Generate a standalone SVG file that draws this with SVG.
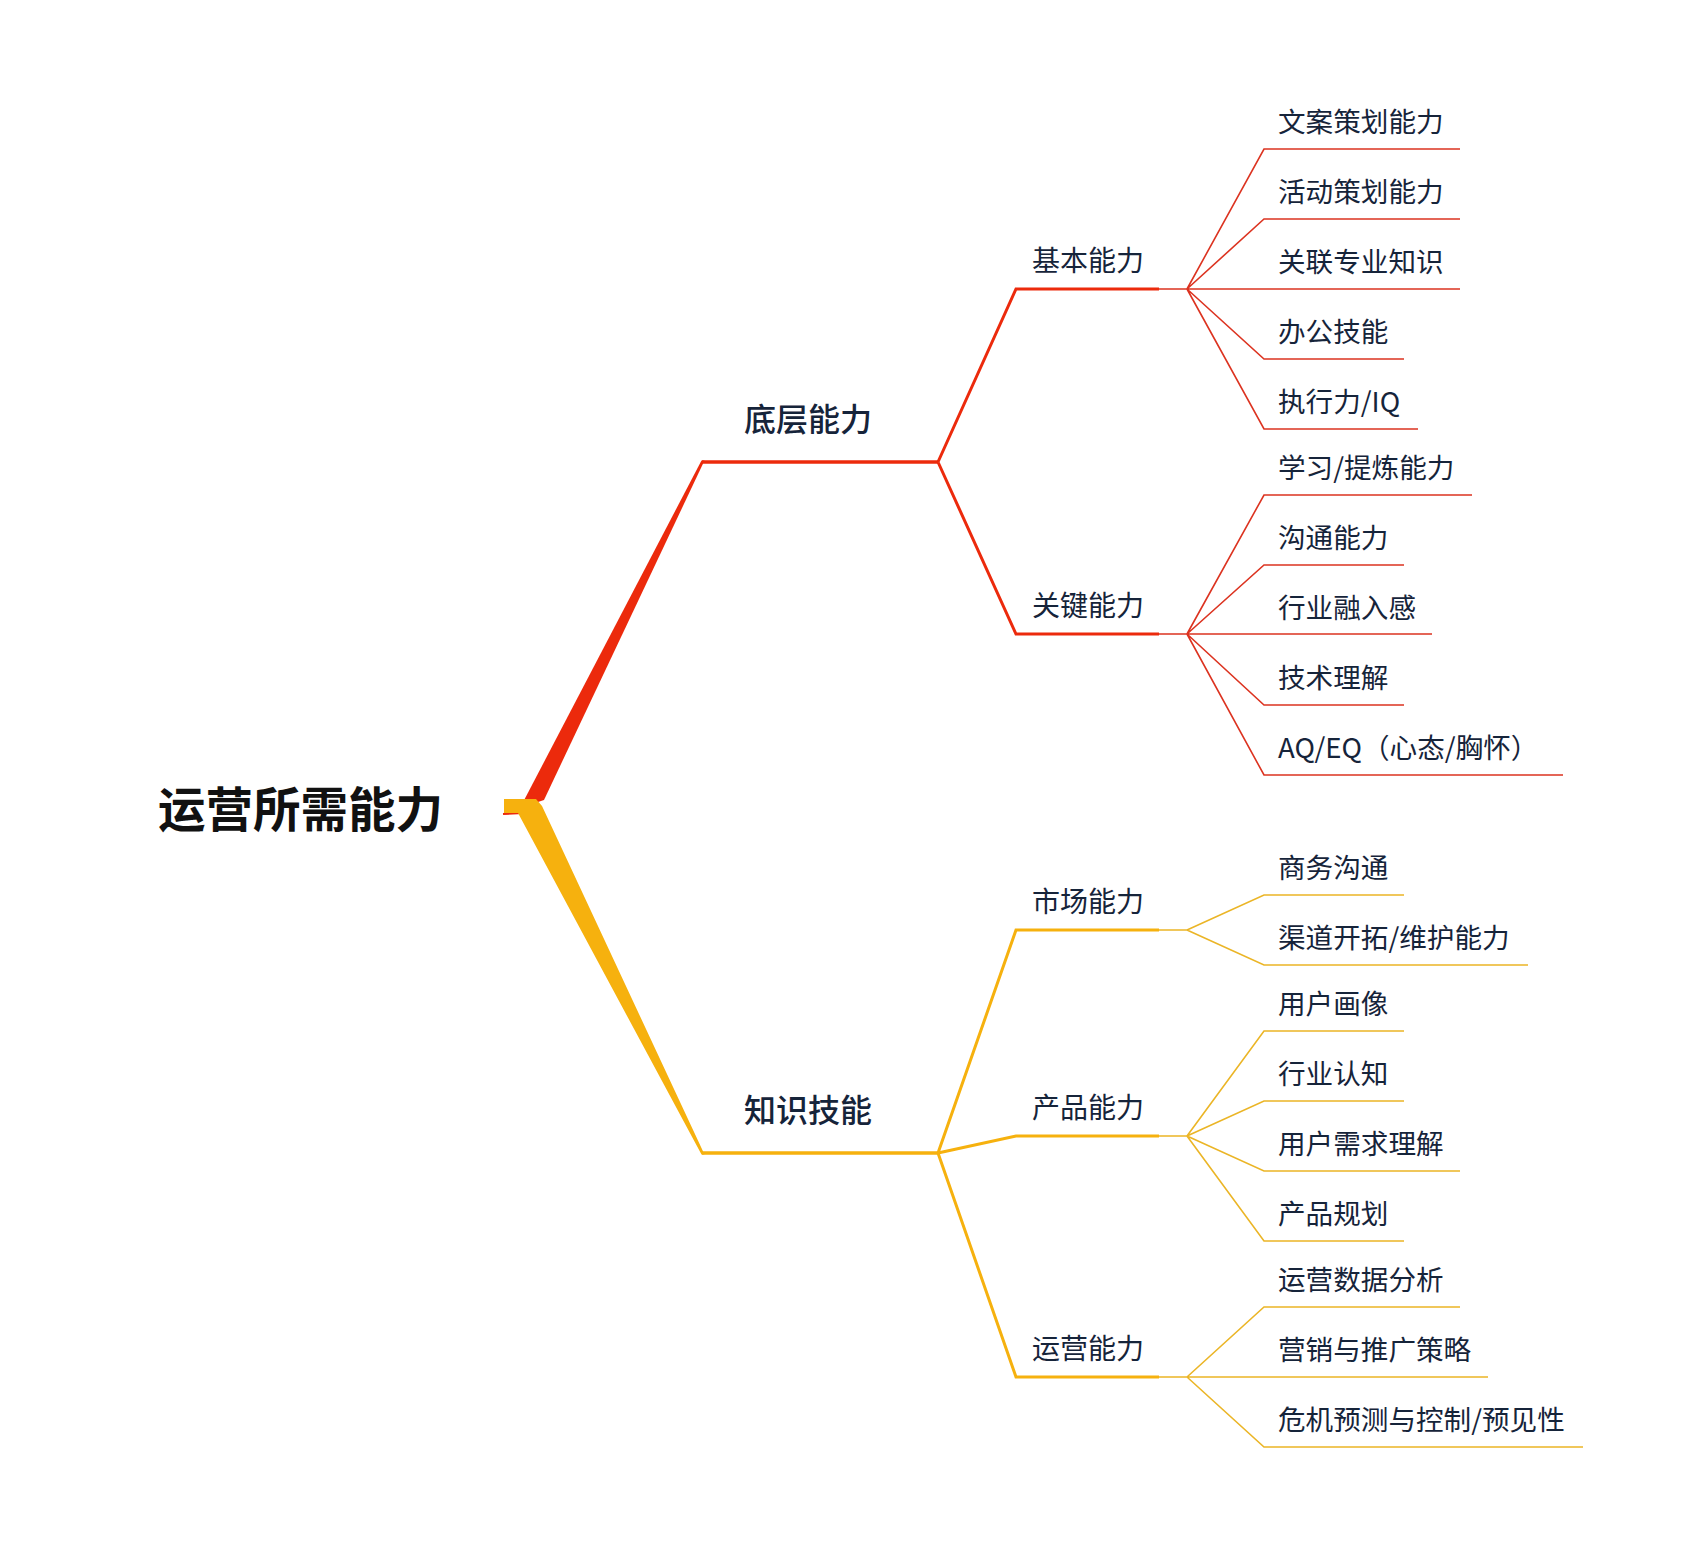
<svg xmlns="http://www.w3.org/2000/svg" width="1684" height="1548" viewBox="0 0 1684 1548">
<style>
text { font-family: "Noto Sans CJK SC", "Noto Sans", sans-serif; fill: #16243a; }
.t0 { font-size: 47.5px; font-weight: 700; fill: #111111; }
.t1 { font-size: 32px; font-weight: 500; }
.t2 { font-size: 28px; }
.t3 { font-size: 27.6px; }
.c path { fill: none; stroke-linejoin: miter; }
.r1 { stroke: #ec2a0c; stroke-width: 3.5; }
.r2 { stroke: #ec2a0c; stroke-width: 3; }
.r3 { stroke: #dc3320; stroke-width: 1.6; }
.y1 { stroke: #f6b10e; stroke-width: 3.5; }
.y2 { stroke: #f6b10e; stroke-width: 3; }
.y3 { stroke: #ebb526; stroke-width: 1.6; }
</style>
<rect width="1684" height="1548" fill="#ffffff"/>
<g id="connectors" class="c">
  <line x1="503" y1="814" x2="523" y2="813" stroke="#ec2a0c" stroke-width="2"/>
  <polygon points="520,808 544,800 704.5,460.5 701.5,460.5" fill="#ec2a0c"/>
  <polygon points="504,799 536,799 542,806 704.5,1154.5 701.5,1154.5 518,813 504,813" fill="#f6b10e"/>
  <path class="r1" d="M702 462 H938"/>
  <path class="r2" d="M938 462 L1016 289 H1159 M938 462 L1016 634 H1159"/>
  <path class="r3" d="M1159 289 H1187 M1187 289 L1264 149 H1460 M1187 289 L1264 219 H1460 M1187 289 H1460 M1187 289 L1264 359 H1404 M1187 289 L1264 429 H1418"/>
  <path class="r3" d="M1159 634 H1187 M1187 634 L1264 495 H1472 M1187 634 L1264 565 H1404 M1187 634 H1432 M1187 634 L1264 705 H1404 M1187 634 L1264 775 H1563"/>
  <path class="y1" d="M702 1153 H938"/>
  <path class="y2" d="M938 1153 L1016 930 H1159 M938 1153 L1016 1136 H1159 M938 1153 L1016 1377 H1159"/>
  <path class="y3" d="M1159 930 H1187 M1187 930 L1264 895 H1404 M1187 930 L1264 965 H1528"/>
  <path class="y3" d="M1159 1136 H1187 M1187 1136 L1264 1031 H1404 M1187 1136 L1264 1101 H1404 M1187 1136 L1264 1171 H1460 M1187 1136 L1264 1241 H1404"/>
  <path class="y3" d="M1159 1377 H1187 M1187 1377 L1264 1307 H1460 M1187 1377 H1488 M1187 1377 L1264 1447 H1583"/>
</g>
<g id="root"><text class="t0" x="158" y="827">运营所需能力</text></g>
<g id="n-dceng"><text class="t1" x="744" y="431">底层能力</text></g>
<g id="n-zhishi"><text class="t1" x="744" y="1122">知识技能</text></g>
<g id="n-jiben"><text class="t2" x="1032" y="271">基本能力</text></g>
<g id="n-guanjian"><text class="t2" x="1032" y="616">关键能力</text></g>
<g id="n-shichang"><text class="t2" x="1032" y="912">市场能力</text></g>
<g id="n-chanpin"><text class="t2" x="1032" y="1118">产品能力</text></g>
<g id="n-yunying"><text class="t2" x="1032" y="1359">运营能力</text></g>
<g id="l1"><text class="t3" x="1278" y="132">文案策划能力</text></g>
<g id="l2"><text class="t3" x="1278" y="202">活动策划能力</text></g>
<g id="l3"><text class="t3" x="1278" y="272">关联专业知识</text></g>
<g id="l4"><text class="t3" x="1278" y="342">办公技能</text></g>
<g id="l5"><text class="t3" x="1278" y="412">执行力/IQ</text></g>
<g id="l6"><text class="t3" x="1278" y="478">学习/提炼能力</text></g>
<g id="l7"><text class="t3" x="1278" y="548">沟通能力</text></g>
<g id="l8"><text class="t3" x="1278" y="618">行业融入感</text></g>
<g id="l9"><text class="t3" x="1278" y="688">技术理解</text></g>
<g id="l10"><text class="t3" x="1278" y="758">AQ/EQ（心态/胸怀）</text></g>
<g id="l11"><text class="t3" x="1278" y="878">商务沟通</text></g>
<g id="l12"><text class="t3" x="1278" y="948">渠道开拓/维护能力</text></g>
<g id="l13"><text class="t3" x="1278" y="1014">用户画像</text></g>
<g id="l14"><text class="t3" x="1278" y="1084">行业认知</text></g>
<g id="l15"><text class="t3" x="1278" y="1154">用户需求理解</text></g>
<g id="l16"><text class="t3" x="1278" y="1224">产品规划</text></g>
<g id="l17"><text class="t3" x="1278" y="1290">运营数据分析</text></g>
<g id="l18"><text class="t3" x="1278" y="1360">营销与推广策略</text></g>
<g id="l19"><text class="t3" x="1278" y="1430">危机预测与控制/预见性</text></g>
</svg>
